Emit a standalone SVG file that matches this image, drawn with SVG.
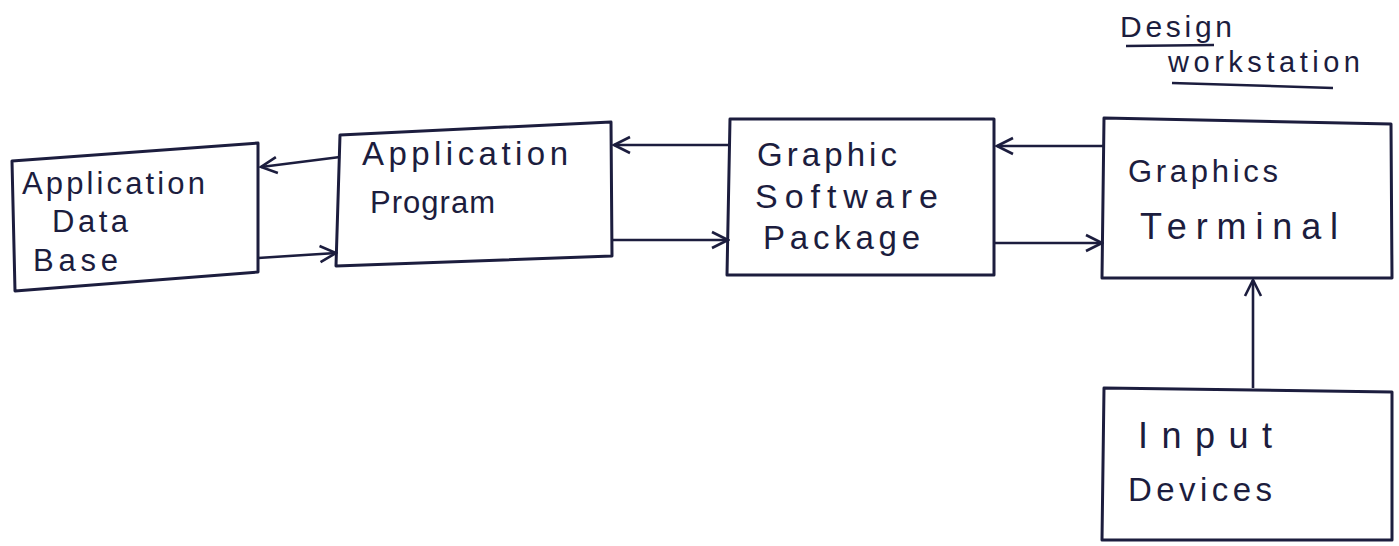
<svg xmlns="http://www.w3.org/2000/svg" width="1399" height="546" viewBox="0 0 1399 546">
<style>
.box{fill:none;stroke:#1c1d3e;stroke-width:3;stroke-linejoin:round}
.con{fill:none;stroke:#1c1d3e;stroke-width:2.6}
.t{font-family:"Liberation Sans",Arial,sans-serif;font-size:31px;fill:#1c1d3e}
.ul{stroke:#1c1d3e;stroke-width:2.5;fill:none}
</style>
<defs>
<marker id="ah" viewBox="0 0 20 20" refX="18" refY="10" markerWidth="20" markerHeight="20" markerUnits="userSpaceOnUse" orient="auto">
<polyline points="2,2 18,10 2,18" fill="none" stroke="#1c1d3e" stroke-width="2.6"/>
</marker>
</defs>
<rect width="1399" height="546" fill="#ffffff"/>
<g id="label-design">
<text class="t" x="1120" y="37" style="font-size:30px" textLength="112" lengthAdjust="spacing">Design</text>
<line class="ul" x1="1126" y1="46" x2="1214" y2="45"/>
<text class="t" x="1168" y="72" style="font-size:29px" textLength="192" lengthAdjust="spacing">workstation</text>
<line class="ul" x1="1172" y1="83" x2="1333" y2="88"/>
</g>
<g id="node-appdb">
<polygon class="box" points="12,161 258,143 258,272 15,291"/>
<text class="t" x="22" y="194" textLength="183" lengthAdjust="spacing">Application</text>
<text class="t" x="52" y="232" textLength="76" lengthAdjust="spacing">Data</text>
<text class="t" x="33" y="271" textLength="85" lengthAdjust="spacing">Base</text>
</g>
<g id="node-appprog">
<polygon class="box" points="340,135 611,122 612,256 336,266"/>
<text class="t" x="362" y="165" style="font-size:33px" textLength="206" lengthAdjust="spacing">Application</text>
<text class="t" x="370" y="213" textLength="125" lengthAdjust="spacing">Program</text>
</g>
<g id="node-gsp">
<polygon class="box" points="730,119 994,119 994,275 727,275"/>
<text class="t" x="757" y="166" style="font-size:33px" textLength="140" lengthAdjust="spacing">Graphic</text>
<text class="t" x="755" y="208" style="font-size:34px" textLength="183" lengthAdjust="spacing">Software</text>
<text class="t" x="763" y="249" style="font-size:33px" textLength="157" lengthAdjust="spacing">Package</text>
</g>
<g id="node-terminal">
<polygon class="box" points="1104,118 1391,124 1392,278 1102,278"/>
<text class="t" x="1128" y="182" textLength="150" lengthAdjust="spacing">Graphics</text>
<text class="t" x="1140" y="239" style="font-size:36px" textLength="198" lengthAdjust="spacing">Terminal</text>
</g>
<g id="node-input">
<polygon class="box" points="1104,388 1392,392 1392,540 1102,540"/>
<text class="t" x="1138" y="448" style="font-size:36px" textLength="134" lengthAdjust="spacing">Input</text>
<text class="t" x="1128" y="501" style="font-size:33px" textLength="144" lengthAdjust="spacing">Devices</text>
</g>
<g id="connectors">
<line class="con" x1="340" y1="157" x2="261" y2="167" marker-end="url(#ah)"/>
<line class="con" x1="258" y1="258" x2="336" y2="253" marker-end="url(#ah)"/>
<line class="con" x1="729" y1="145" x2="614" y2="145" marker-end="url(#ah)"/>
<line class="con" x1="612" y1="240" x2="728" y2="240" marker-end="url(#ah)"/>
<line class="con" x1="1103" y1="146" x2="997" y2="146" marker-end="url(#ah)"/>
<line class="con" x1="994" y1="243" x2="1102" y2="243" marker-end="url(#ah)"/>
<line class="con" x1="1253" y1="388" x2="1253" y2="280" marker-end="url(#ah)"/>
</g>
</svg>
